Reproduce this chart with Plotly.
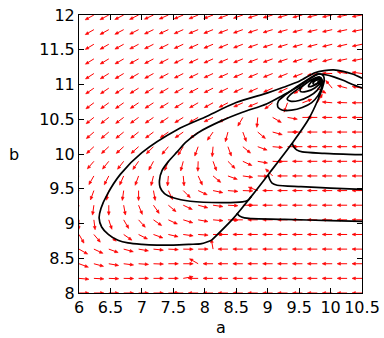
import math
import numpy as np
import plotly.graph_objects as go

# ---------------- axis / grid data ----------------
A_MIN, A_MAX = 6.0, 10.5
B_MIN, B_MAX = 8.0, 12.0
x_ticks = [6, 6.5, 7, 7.5, 8, 8.5, 9, 9.5, 10, 10.5]
x_tick_text = ["6", "6.5", "7", "7.5", "8", "8.5", "9", "9.5", "10", "10.5"]
y_ticks = [8, 8.5, 9, 9.5, 10, 10.5, 11, 11.5, 12]
y_tick_text = ["8", "8.5", "9", "9.5", "10", "10.5", "11", "11.5", "12"]

# field sample points (20 x 20 grid)
field_a = np.linspace(A_MIN, A_MAX, 20)
field_b = np.linspace(B_MIN, B_MAX, 20)

# arrow directions (degrees, 0 = +a, 90 = +b), one list per row of b (bottom -> top)
dir_b0 = [0, 0, 0, 0, 0, 0, 0, 180, 180, 180, 180, 180, 180, 180, 180, 180, 180, 180, 180, 180]
dir_b1 = [355, 357, 358, 359, 0, 0, 0, 10, 180, 180, 180, 180, 180, 180, 180, 180, 180, 180, 180, 180]
dir_b2 = [340, 345, 350, 353, 356, 358, 0, 0, 150, 180, 180, 180, 180, 180, 180, 180, 180, 180, 180, 180]
dir_b3 = [330, 335, 340, 345, 350, 354, 357, 359, 0, 100, 180, 180, 180, 180, 180, 180, 180, 180, 180, 180]
dir_b4 = [300, 310, 318, 325, 333, 340, 347, 352, 356, 0, 180, 180, 180, 180, 180, 180, 180, 180, 180, 180]
dir_b5 = [268, 277, 288, 300, 312, 325, 335, 343, 350, 355, 358, 180, 180, 180, 180, 180, 180, 180, 180, 180]
dir_b6 = [255, 262, 270, 280, 292, 305, 320, 335, 345, 352, 357, 0, 180, 180, 180, 180, 180, 180, 180, 180]
dir_b7 = [245, 250, 256, 262, 270, 280, 295, 315, 335, 348, 355, 358, 160, 180, 180, 180, 180, 180, 180, 180]
dir_b8 = [236, 240, 243, 246, 250, 256, 265, 275, 295, 320, 340, 352, 358, 135, 180, 180, 180, 180, 180, 180]
dir_b9 = [228, 229, 231, 232, 235, 242, 248, 255, 268, 290, 315, 335, 350, 358, 180, 180, 180, 180, 180, 180]
dir_b10 = [223, 223, 223, 222, 222, 225, 230, 238, 250, 265, 290, 320, 340, 355, 0, 180, 180, 180, 180, 180]
dir_b11 = [221, 221, 220, 219, 218, 217, 215, 215, 218, 235, 255, 290, 320, 345, 0, 180, 180, 180, 180, 180]
dir_b12 = [219, 219, 218, 217, 216, 215, 214, 212, 210, 206, 208, 240, 265, 330, 350, 0, 180, 180, 180, 180]
dir_b13 = [217, 217, 216, 215, 214, 213, 212, 211, 210, 209, 207, 204, 203, 218, 250, 20, 60, 175, 178, 180]
dir_b14 = [215, 215, 214, 213, 212, 211, 210, 209, 208, 207, 206, 205, 204, 204, 205, 212, 330, 130, 165, 170]
dir_b15 = [213, 213, 212, 211, 210, 209, 208, 207, 206, 205, 204, 203, 203, 202, 202, 201, 190, 178, 170, 172]
dir_b16 = [212, 212, 211, 210, 209, 208, 207, 206, 205, 204, 203, 202, 201, 200, 199, 198, 197, 195, 192, 191]
dir_b17 = [211, 211, 210, 209, 208, 207, 206, 205, 204, 203, 202, 201, 199, 198, 197, 196, 195, 194, 193, 192]
dir_b18 = [210, 210, 209, 208, 207, 206, 205, 204, 203, 202, 201, 200, 198, 197, 196, 195, 194, 193, 192, 191]
dir_b19 = [209, 209, 208, 207, 206, 205, 204, 203, 202, 201, 200, 199, 197, 196, 195, 194, 193, 192, 191, 190]
dir_rows = [dir_b0, dir_b1, dir_b2, dir_b3, dir_b4, dir_b5, dir_b6, dir_b7, dir_b8, dir_b9,
            dir_b10, dir_b11, dir_b12, dir_b13, dir_b14, dir_b15, dir_b16, dir_b17, dir_b18, dir_b19]

# ---------------- trajectories ----------------
# outer trajectory (from right edge, over the top, big loop, reaching the sliding line)
t1_a = [10.50, 10.35, 10.20, 10.05, 9.90, 9.75, 9.51, 9.25, 9.00, 8.50, 8.00, 7.56, 7.00, 6.66, 6.45,
        6.35, 6.32, 6.36, 6.47, 6.62, 6.78, 7.00, 7.24, 7.50, 7.76, 7.95, 8.11]
t1_b = [11.09, 11.15, 11.19, 11.21, 11.20, 11.17, 11.05, 10.96, 10.88, 10.74, 10.53, 10.35, 10.02, 9.71, 9.42,
        9.22, 9.08, 8.95, 8.84, 8.76, 8.72, 8.70, 8.69, 8.69, 8.70, 8.71, 8.76]
# second trajectory
t2_a = [10.50, 10.35, 10.20, 10.05, 9.92, 9.80, 9.65, 9.51, 9.25, 8.98, 8.60, 8.27, 7.90, 7.70, 7.56,
        7.42, 7.32, 7.28, 7.29, 7.36, 7.50, 7.77, 8.27, 8.60, 8.68, 8.74]
t2_b = [10.95, 11.00, 11.06, 11.11, 11.14, 11.15, 11.07, 10.98, 10.85, 10.72, 10.60, 10.48, 10.31, 10.17, 10.03,
        9.89, 9.76, 9.62, 9.52, 9.43, 9.37, 9.32, 9.30, 9.31, 9.33, 9.39]
# trajectories entering from the right edge
r1_a = [10.50, 9.90, 9.55, 9.46, 9.41, 9.39]
r1_b = [9.99, 10.01, 10.03, 10.06, 10.11, 10.16]
r2_a = [10.50, 10.00, 9.53, 9.15, 9.07, 9.03, 9.01]
r2_b = [9.49, 9.51, 9.53, 9.55, 9.58, 9.64, 9.70]
r3_a = [10.50, 10.00, 9.27, 8.75, 8.63, 8.55, 8.51]
r3_b = [9.03, 9.04, 9.06, 9.07, 9.08, 9.11, 9.15]
# sliding line and spiral into the focus
sl_a = [8.11, 8.45, 8.74, 9.04, 9.41, 9.65, 9.80, 9.87, 9.90, 9.88, 9.80, 9.65, 9.45, 9.28, 9.17,
        9.16, 9.24, 9.38, 9.55, 9.70, 9.80, 9.86, 9.87, 9.82, 9.70, 9.52, 9.37, 9.31, 9.36, 9.50,
        9.66, 9.79, 9.85, 9.84, 9.76, 9.62, 9.52, 9.52, 9.62, 9.75, 9.83, 9.82, 9.74, 9.66, 9.65,
        9.72, 9.80, 9.82, 9.77, 9.72, 9.74, 9.80, 9.80]
sl_b = [8.76, 9.07, 9.39, 9.74, 10.18, 10.50, 10.78, 10.95, 11.06, 11.13, 11.15, 11.08, 10.96, 10.85, 10.76,
        10.68, 10.63, 10.63, 10.67, 10.74, 10.84, 10.96, 11.06, 11.11, 11.07, 10.96, 10.86, 10.79, 10.76, 10.77,
        10.83, 10.92, 11.01, 11.08, 11.09, 11.02, 10.94, 10.90, 10.90, 10.95, 11.02, 11.07, 11.06, 11.00, 10.97,
        10.98, 11.02, 11.06, 11.06, 11.02, 11.00, 11.03, 11.05]

# ---------------- layout constants ----------------
W, H = 384, 338
ML, MR, MT, MB = 79, 22, 15, 45
PW, PH = W - ML - MR, H - MT - MB
px_a = PW / (A_MAX - A_MIN)
px_b = PH / (B_MAX - B_MIN)
ARROW_LEN = 10.0   # px
HEAD_LEN = 3.4     # px
HEAD_HALF = 1.4    # px
RED = "#ff0000"
FONT = "DejaVu Sans"

shaft_x, shaft_y, head_x, head_y = [], [], [], []
for j, row in enumerate(dir_rows):
    for i, ang in enumerate(row):
        a0, b0 = field_a[i], field_b[j]
        t = math.radians(ang)
        ux, uy = math.cos(t), math.sin(t)
        a1 = a0 + ARROW_LEN * ux / px_a
        b1 = b0 + ARROW_LEN * uy / px_b
        ab = a1 - HEAD_LEN * ux / px_a
        bb = b1 - HEAD_LEN * uy / px_b
        shaft_x += [a0, ab, None]
        shaft_y += [b0, bb, None]
        lx = ab + HEAD_HALF * (-uy) / px_a
        ly = bb + HEAD_HALF * (ux) / px_b
        rx = ab - HEAD_HALF * (-uy) / px_a
        ry = bb - HEAD_HALF * (ux) / px_b
        head_x += [lx, a1, rx, lx, None]
        head_y += [ly, b1, ry, ly, None]

fig = go.Figure()
fig.add_trace(go.Scatter(x=shaft_x, y=shaft_y, mode="lines",
                         line=dict(color=RED, width=1), hoverinfo="skip"))
fig.add_trace(go.Scatter(x=head_x, y=head_y, mode="lines", fill="toself",
                         fillcolor=RED, line=dict(color=RED, width=0.6), hoverinfo="skip"))

for xa, yb in [(t1_a, t1_b), (t2_a, t2_b), (r1_a, r1_b), (r2_a, r2_b), (r3_a, r3_b), (sl_a, sl_b)]:
    fig.add_trace(go.Scatter(x=xa, y=yb, mode="lines",
                             line=dict(color="black", width=1.7, shape="spline", smoothing=0.8),
                             hoverinfo="skip"))

axis_common = dict(showgrid=False, zeroline=False, showline=True, linecolor="black", linewidth=1,
                   ticks="inside", ticklen=5, tickcolor="black", mirror="ticks", automargin=False,
                   tickfont=dict(family=FONT, size=16, color="black"))
fig.update_xaxes(range=[A_MIN, A_MAX], tickvals=x_ticks, ticktext=x_tick_text, **axis_common)
fig.update_yaxes(range=[B_MIN, B_MAX], tickvals=y_ticks, ticktext=y_tick_text, **axis_common)

fig.update_layout(
    width=W, height=H, margin=dict(l=ML, r=MR, t=MT, b=MB, autoexpand=False),
    plot_bgcolor="white", paper_bgcolor="white", showlegend=False,
    annotations=[
        dict(text="a", xref="paper", yref="paper", x=0.5, y=0, yshift=-34, showarrow=False,
             xanchor="center", yanchor="middle", font=dict(family=FONT, size=16, color="black")),
        dict(text="b", xref="paper", yref="paper", x=0, y=0.5, xshift=-65, showarrow=False,
             xanchor="center", yanchor="middle", font=dict(family=FONT, size=16, color="black")),
    ],
)

fig.write_html(
    "out.html",
    config={"displayModeBar": False},
    post_script="document.body.style.margin='0';document.body.style.padding='0';"
                "document.documentElement.style.overflow='hidden';",
)
